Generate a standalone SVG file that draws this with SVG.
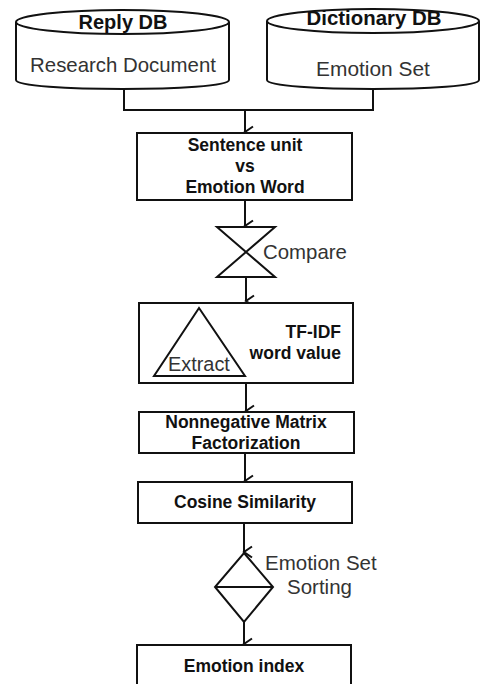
<svg xmlns="http://www.w3.org/2000/svg" width="480" height="684" viewBox="0 0 480 684">
<style>
.s{fill:#fff;stroke:#111;stroke-width:2}
.ln{fill:none;stroke:#111;stroke-width:2}
.b{font-family:"Liberation Sans",Arial,sans-serif;font-weight:bold;fill:#111;text-anchor:middle;font-size:17.5px}
.n{font-family:"Liberation Sans",Arial,sans-serif;fill:#333}
</style>
<defs>
<marker id="ar" markerWidth="14" markerHeight="14" refX="7" refY="12" orient="auto" markerUnits="userSpaceOnUse" viewBox="0 0 14 14">
<path d="M1.5,4 L7,12 L12.5,4" fill="none" stroke="#111" stroke-width="2"/>
</marker>
</defs>
<rect width="480" height="684" fill="#fff"/>
<g id="connectors">
<path class="ln" d="M124,86 V110 H373 V86"/>
<path class="ln" d="M245,110 V132" marker-end="url(#ar)"/>
<path class="ln" d="M245,200 V226" marker-end="url(#ar)"/>
<path class="ln" d="M246,277 V301" marker-end="url(#ar)"/>
<path class="ln" d="M246,383 V411" marker-end="url(#ar)"/>
<path class="ln" d="M245,453 V481" marker-end="url(#ar)"/>
<path class="ln" d="M244,523 V552" marker-end="url(#ar)"/>
<path class="ln" d="M244,622 V644" marker-end="url(#ar)"/>
</g>
<g id="replydb">
<path class="s" d="M16,22 V80 C16,92 229,92 229,80 V22"/>
<ellipse class="s" cx="122.5" cy="22" rx="106.5" ry="12"/>
<text class="b" x="123" y="29" style="font-size:20px">Reply DB</text>
<text class="n" x="123" y="72" font-size="20.4" text-anchor="middle">Research Document</text>
</g>
<g id="dictdb">
<path class="s" d="M267,21 V80 C267,92 479,92 479,80 V21"/>
<ellipse class="s" cx="373" cy="21" rx="106" ry="12"/>
<text class="b" x="374" y="25" style="font-size:20.4px">Dictionary DB</text>
<text class="n" x="373" y="76" font-size="20.9" text-anchor="middle">Emotion Set</text>
</g>
<g id="sentence">
<rect class="s" x="137" y="133" width="215" height="67"/>
<text class="b" x="245" y="151">Sentence unit</text>
<text class="b" x="245" y="172">vs</text>
<text class="b" x="245" y="193">Emotion Word</text>
</g>
<g id="compare">
<path class="s" d="M217,227 H275 L217,277 H275 Z"/>
<text class="n" x="263" y="259" font-size="20.4">Compare</text>
</g>
<g id="tfidf">
<rect class="s" x="139" y="303" width="214" height="80"/>
<path class="s" d="M199,308 L154,376 H245 Z" stroke-width="2.5"/>
<text class="n" x="168" y="371" font-size="19.9">Extract</text>
<text class="b" x="341" y="337.5" style="text-anchor:end">TF-IDF</text>
<text class="b" x="341" y="358.5" style="text-anchor:end">word value</text>
</g>
<g id="nmf">
<rect class="s" x="139" y="412" width="215" height="41"/>
<text class="b" x="246" y="427.5">Nonnegative Matrix</text>
<text class="b" x="246" y="448.5">Factorization</text>
</g>
<g id="cosine">
<rect class="s" x="138" y="482" width="214" height="41"/>
<text class="b" x="245" y="508">Cosine Similarity</text>
</g>
<g id="sorting">
<path class="s" d="M244,553 L273,587 L244,622 L215,587 Z"/>
<path class="ln" d="M215,587 H273"/>
<text class="n" x="265" y="570" font-size="20.5">Emotion Set</text>
<text class="n" x="287" y="594" font-size="20.5">Sorting</text>
</g>
<g id="index">
<rect class="s" x="137" y="645" width="214" height="50"/>
<text class="b" x="244" y="672">Emotion index</text>
</g>
</svg>
